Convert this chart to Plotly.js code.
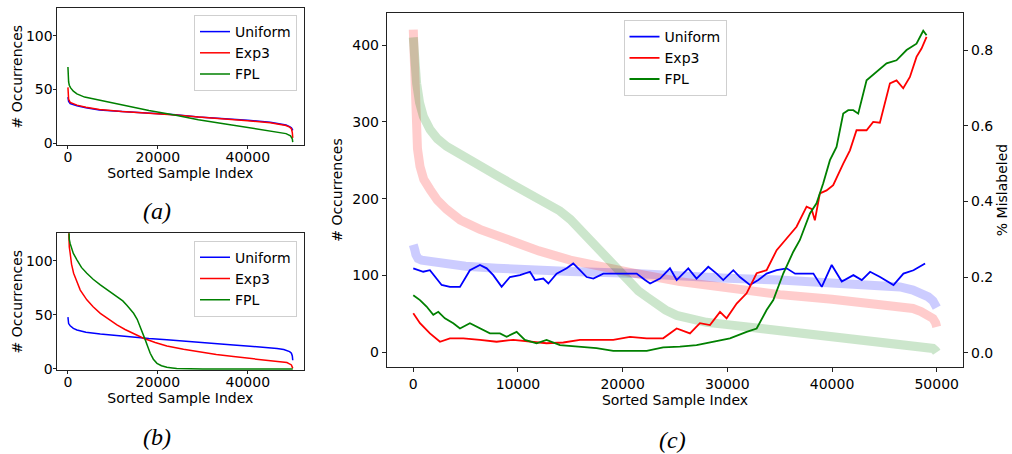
<!DOCTYPE html>
<html>
<head>
<meta charset="utf-8">
<script src="https://cdn.plot.ly/plotly-3.0.1.min.js"></script>
<style>html,body{margin:0;padding:0;background:#fff;}#chart{width:1012px;height:454px;}</style>
</head>
<body>
<div id="chart"></div>
<script>
// ---------- Panel (a): sorted occurrences ----------
const aUniformX = [0, 50, 150, 500, 1200, 2000, 4000, 7000, 12000, 18000, 24000, 29000, 35000, 40000, 45000, 47500, 48500, 49300, 49700, 49900, 50000];
const aUniformY = [43, 41, 39, 37, 36, 35, 33, 31, 29.5, 28, 26.5, 24.5, 23, 21.5, 19.5, 18, 17, 15.5, 14.5, 13, 12];
const aExp3X = [0, 50, 150, 500, 1200, 2000, 4000, 7000, 12000, 18000, 24000, 29000, 35000, 40000, 45000, 47500, 48500, 49300, 49700, 49900, 50000];
const aExp3Y = [52, 45, 41, 38, 36.5, 35.5, 33.5, 31.5, 29.5, 28, 26.3, 24.5, 22.8, 21, 19, 17.5, 16.5, 15, 13.5, 10, 5];
const aFplX = [0, 50, 150, 300, 600, 1200, 2000, 3700, 7000, 12000, 18000, 24000, 29000, 35000, 40000, 45000, 48500, 49500, 49900, 50000];
const aFplY = [71, 62, 57, 54, 51.5, 48.5, 46, 43, 40, 35.5, 30.5, 26, 22, 18, 14.5, 11.5, 9, 7, 4, 1];

// ---------- Panel (b): sorted occurrences ----------
const bUniformX = [0, 30, 150, 500, 1200, 2000, 4000, 7200, 10900, 14600, 18000, 22000, 25700, 29400, 33000, 36800, 40500, 44200, 46500, 48000, 48700, 49300, 49700, 49900, 50000];
const bUniformY = [48, 44, 42, 40, 37.5, 36, 34, 32.4, 30.8, 29.3, 28.1, 26.9, 25.6, 24.4, 23.3, 22.2, 21.1, 20, 19, 18, 17, 16, 14.5, 12, 8];
const bExp3X = [0, 100, 300, 500, 800, 1260, 2000, 2740, 4200, 5600, 7200, 9000, 10900, 12700, 14600, 16800, 19400, 22000, 25700, 29400, 33000, 36800, 40500, 44200, 46500, 48700, 49700, 50000];
const bExp3Y = [150, 125, 113, 107, 97, 88.6, 80, 73, 64, 57.5, 51.5, 46, 40.7, 36.5, 33, 28.4, 24.5, 21.3, 18.2, 15.4, 13.3, 11.4, 9.8, 8.3, 7.2, 5.9, 3.7, 0.5];
const bFplX = [0, 100, 300, 500, 1200, 2000, 3000, 4200, 5600, 7200, 9000, 10900, 12200, 13100, 14000, 14600, 15400, 16100, 16700, 17200, 17800, 18300, 19000, 19800, 20800, 22000, 23200, 24200, 30000, 40000, 50000];
const bFplY = [160, 130, 120, 116, 107, 101, 94, 88.6, 83, 77.8, 72.5, 67, 63, 59, 55, 51.5, 46, 39, 33, 26.9, 20, 14.5, 9, 5.2, 3, 1.5, 0.8, 0.3, 0, 0, 0];

// ---------- Panel (c): sorted occurrences (left axis) ----------
const cUniformOccX = [0, 80, 150, 250, 450, 800, 1600, 3000, 5000, 8000, 11150, 15000, 20700, 25470, 30000, 35020, 40000, 44570, 46500, 47730, 48600, 49200, 49640, 49900, 50000];
const cUniformOccY = [140, 138, 133, 127, 122, 120, 118, 115, 112, 109.5, 107, 105, 103, 99, 96.5, 94, 91, 88, 85, 81, 77, 72, 67, 62, 58];
const cExp3OccX = [0, 50, 120, 250, 400, 640, 1000, 1600, 2300, 3190, 4500, 6370, 8000, 9540, 12000, 15000, 18000, 20700, 25470, 30000, 35020, 40000, 44570, 46500, 47730, 48500, 49200, 49640, 49900, 50000];
const cExp3OccY = [420, 380, 340, 295, 265, 242, 225, 212, 198, 186, 172, 160, 151, 144, 132, 120, 110, 104, 92, 83, 75, 69, 63, 60, 57, 53, 48, 44, 38, 33];
const cFplOccX = [0, 100, 200, 320, 600, 960, 1600, 2300, 3190, 4700, 6370, 8000, 9540, 11100, 12730, 14000, 15000, 15920, 16700, 17500, 18300, 19100, 19900, 20700, 21500, 22300, 23200, 24100, 25160, 26500, 28000, 30000, 32500, 35020, 37500, 40000, 42500, 44570, 46500, 47730, 48800, 49640, 49900, 50000];
const cFplOccY = [410, 385, 362, 350, 325, 307, 290, 278, 268, 255, 242, 230, 218, 206, 194, 184, 173, 160, 148, 136, 124, 112, 100, 90, 80, 72, 63, 55, 48, 43, 39, 36, 32, 29, 25, 21, 17, 14, 11.5, 9.5, 7.5, 5, 2, 0];

// ---------- Panel (c): % mislabeled (right axis) ----------
const cUniformMisX = [0, 480, 955, 1590, 2070, 2710, 3500, 4460, 5410, 6370, 7010, 7640, 8440, 9230, 10190, 11150, 11630, 12420, 12900, 13690, 14650, 15280, 15920, 16560, 17200, 18150, 19750, 21340, 22140, 22620, 23570, 24520, 25160, 26270, 27060, 28180, 28980, 29610, 30570, 31200, 32160, 32960, 33750, 34710, 35670, 36470, 37580, 38220, 39020, 39970, 40930, 42040, 42840, 43640, 44590, 45870, 46820, 47780, 48890];
const cUniformMisY = [0.223, 0.218, 0.214, 0.218, 0.2, 0.179, 0.174, 0.174, 0.218, 0.232, 0.223, 0.205, 0.174, 0.2, 0.205, 0.214, 0.192, 0.196, 0.183, 0.209, 0.223, 0.236, 0.218, 0.2, 0.196, 0.209, 0.209, 0.209, 0.192, 0.183, 0.196, 0.223, 0.192, 0.223, 0.196, 0.227, 0.209, 0.192, 0.218, 0.2, 0.179, 0.192, 0.209, 0.218, 0.223, 0.209, 0.209, 0.209, 0.174, 0.232, 0.188, 0.205, 0.192, 0.214, 0.2, 0.179, 0.209, 0.218, 0.236];
const cExp3MisX = [0, 640, 1590, 2550, 3500, 4780, 6370, 7960, 9550, 11150, 12730, 14330, 15920, 17500, 19100, 20700, 22300, 23870, 25160, 26430, 27380, 28340, 29300, 29930, 30890, 31840, 32800, 33750, 34710, 35660, 36610, 37570, 38040, 38360, 38840, 39480, 40110, 41070, 41710, 42340, 43300, 43930, 44570, 45530, 46160, 46800, 47440, 48070, 48550, 49030];
const cExp3MisY = [0.104, 0.078, 0.051, 0.029, 0.038, 0.038, 0.034, 0.029, 0.034, 0.029, 0.025, 0.027, 0.034, 0.034, 0.034, 0.042, 0.038, 0.038, 0.064, 0.051, 0.078, 0.073, 0.108, 0.091, 0.13, 0.157, 0.21, 0.218, 0.271, 0.302, 0.333, 0.386, 0.38, 0.35, 0.421, 0.429, 0.443, 0.5, 0.535, 0.588, 0.588, 0.61, 0.608, 0.712, 0.72, 0.699, 0.729, 0.782, 0.804, 0.835];
const cFplMisX = [0, 640, 1270, 1910, 2390, 3020, 3820, 4460, 5410, 6370, 7320, 8280, 8910, 9870, 10660, 11780, 12730, 14010, 15920, 17500, 19100, 20700, 22300, 23870, 25470, 27060, 28660, 30250, 31840, 32800, 33750, 34390, 35350, 36300, 36930, 37890, 38520, 39160, 39800, 40430, 41070, 41550, 42030, 42500, 43300, 44250, 45210, 46160, 47120, 48070, 48710, 49030];
const cFplMisY = [0.152, 0.139, 0.122, 0.1, 0.108, 0.091, 0.078, 0.064, 0.078, 0.064, 0.051, 0.051, 0.042, 0.055, 0.034, 0.025, 0.034, 0.02, 0.016, 0.012, 0.005, 0.005, 0.005, 0.014, 0.016, 0.02, 0.029, 0.038, 0.055, 0.064, 0.113, 0.139, 0.21, 0.267, 0.298, 0.368, 0.395, 0.448, 0.509, 0.544, 0.632, 0.641, 0.641, 0.632, 0.72, 0.742, 0.765, 0.773, 0.8, 0.817, 0.851, 0.839];

const seriesNames = ['Uniform', 'Exp3', 'FPL'];
const xTicksAB = [0, 20000, 40000];
const yTicksAB = [0, 50, 100];
const xTicksC = [0, 10000, 20000, 30000, 40000, 50000];
const yTicksCLeft = [0, 100, 200, 300, 400];
const yTicksCRight = [0, 0.2, 0.4, 0.6, 0.8];
const panelLabels = ['(a)', '(b)', '(c)'];

const BLUE = '#0000ff', RED = '#ff0000', GREEN = '#008000';
const BLUE_A = 'rgba(0,0,255,0.2)', RED_A = 'rgba(255,0,0,0.2)', GREEN_A = 'rgba(0,128,0,0.2)';
const FONT = {family: 'DejaVu Sans, sans-serif', size: 14, color: '#000'};

function line(x, y, name, color, width, xa, ya, legend, show) {
  return {type: 'scatter', mode: 'lines', x: x, y: y, name: name,
    line: {color: color, width: width}, xaxis: xa, yaxis: ya,
    legend: legend, showlegend: show, hoverinfo: 'skip'};
}

const traces = [
  line(aUniformX, aUniformY, seriesNames[0], BLUE, 1.5, 'x', 'y', 'legend', true),
  line(aExp3X, aExp3Y, seriesNames[1], RED, 1.5, 'x', 'y', 'legend', true),
  line(aFplX, aFplY, seriesNames[2], GREEN, 1.5, 'x', 'y', 'legend', true),
  line(bUniformX, bUniformY, seriesNames[0], BLUE, 1.5, 'x2', 'y2', 'legend2', true),
  line(bExp3X, bExp3Y, seriesNames[1], RED, 1.5, 'x2', 'y2', 'legend2', true),
  line(bFplX, bFplY, seriesNames[2], GREEN, 1.5, 'x2', 'y2', 'legend2', true),
  line(cUniformOccX, cUniformOccY, seriesNames[0], BLUE_A, 9, 'x3', 'y3', 'legend3', false),
  line(cExp3OccX, cExp3OccY, seriesNames[1], RED_A, 9, 'x3', 'y3', 'legend3', false),
  line(cFplOccX, cFplOccY, seriesNames[2], GREEN_A, 9, 'x3', 'y3', 'legend3', false),
  line(cUniformMisX, cUniformMisY, seriesNames[0], BLUE, 1.8, 'x3', 'y4', 'legend3', true),
  line(cExp3MisX, cExp3MisY, seriesNames[1], RED, 1.8, 'x3', 'y4', 'legend3', true),
  line(cFplMisX, cFplMisY, seriesNames[2], GREEN, 1.8, 'x3', 'y4', 'legend3', true)
];

function ax(extra) {
  return Object.assign({
    showline: true, mirror: true, linecolor: '#222', linewidth: 1.2,
    ticks: 'outside', ticklen: 4, tickwidth: 1, tickcolor: '#222',
    showgrid: false, zeroline: false, tickfont: FONT, automargin: false,
    tickformat: 'd'
  }, extra);
}

const W = 1012, H = 454;
const px = v => v / W, py = v => 1 - v / H;

const legendBase = {font: FONT, bgcolor: 'rgba(255,255,255,0.85)', bordercolor: '#cfcfcf', borderwidth: 1, yanchor: 'top'};
const LABEL_FONT = {family: 'Liberation Serif, serif', size: 24, color: '#000', style: 'italic'};

const layout = {
  width: W, height: H, margin: {l: 0, r: 0, t: 0, b: 0}, autosize: false,
  paper_bgcolor: '#fff', plot_bgcolor: '#fff', font: FONT,
  xaxis: ax({domain: [px(56.7), px(304)], anchor: 'y', range: [-2500, 52500], tickvals: xTicksAB,
    ticklen: 3, ticklabelstandoff: -4, title: {text: 'Sorted Sample Index', font: FONT, standoff: 2}}),
  yaxis: ax({domain: [py(145), py(8.3)], anchor: 'x', range: [-1.6, 125.6], tickvals: yTicksAB,
    ticklen: 3, ticklabelstandoff: -3, title: {text: '# Occurrences', font: FONT, standoff: 0}}),
  xaxis2: ax({domain: [px(56.7), px(304)], anchor: 'y2', range: [-2500, 52500], tickvals: xTicksAB,
    ticklen: 3, ticklabelstandoff: -4, title: {text: 'Sorted Sample Index', font: FONT, standoff: 2}}),
  yaxis2: ax({domain: [py(370), py(233.3)], anchor: 'x2', range: [-1, 125.6], tickvals: yTicksAB,
    ticklen: 3, ticklabelstandoff: -3, title: {text: '# Occurrences', font: FONT, standoff: 0}}),
  xaxis3: ax({domain: [px(387), px(963)], anchor: 'y3', range: [-2510, 52510], tickvals: xTicksC,
    title: {text: 'Sorted Sample Index', font: FONT, standoff: 2}}),
  yaxis3: ax({domain: [py(367), py(13)], anchor: 'x3', range: [-19.2, 441.7], tickvals: yTicksCLeft,
    mirror: false, title: {text: '# Occurrences', font: FONT, standoff: 6}}),
  yaxis4: ax({domain: [py(367), py(13)], anchor: 'x3', overlaying: 'y3', side: 'right', range: [-0.0378, 0.898],
    tickvals: yTicksCRight, tickformat: '.1f', mirror: false,
    title: {text: '% Mislabeled', font: FONT, standoff: 4}}),
  legend: Object.assign({}, legendBase, {x: px(297), xanchor: 'right', y: py(15)}),
  legend2: Object.assign({}, legendBase, {x: px(297), xanchor: 'right', y: py(240.7)}),
  legend3: Object.assign({}, legendBase, {x: px(675), xanchor: 'center', y: py(20)}),
  annotations: [
    {text: panelLabels[0], xref: 'paper', yref: 'paper', x: px(157), y: py(210.7), showarrow: false,
      font: LABEL_FONT, xanchor: 'center', yanchor: 'middle'},
    {text: panelLabels[1], xref: 'paper', yref: 'paper', x: px(157), y: py(436.7), showarrow: false,
      font: LABEL_FONT, xanchor: 'center', yanchor: 'middle'},
    {text: panelLabels[2], xref: 'paper', yref: 'paper', x: px(672), y: py(440), showarrow: false,
      font: LABEL_FONT, xanchor: 'center', yanchor: 'middle'}
  ]
};

Plotly.newPlot('chart', traces, layout, {displayModeBar: false, staticPlot: true});
</script>
</body>
</html>
